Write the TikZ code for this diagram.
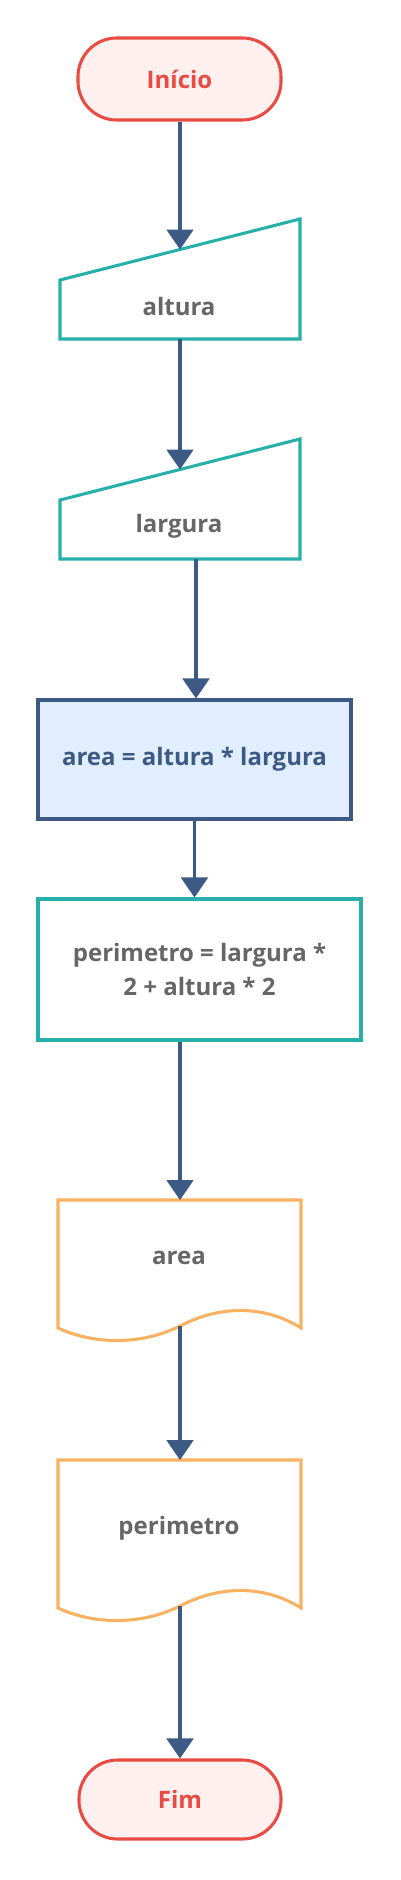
\documentclass[tikz,border=0pt]{standalone}
\usepackage{fontspec}
\setmainfont{Open Sans}
\usetikzlibrary{arrows.meta}
\definecolor{termred}{HTML}{E94B43}
\definecolor{termfill}{HTML}{FFF0F0}
\definecolor{teal}{HTML}{27B0AA}
\definecolor{navy}{HTML}{3C5A84}
\definecolor{procfill}{HTML}{E1EEFF}
\definecolor{orange}{HTML}{F9B261}
\definecolor{txtgray}{HTML}{666666}
\tikzset{
  txtfont/.style={font=\fontsize{18}{26}\selectfont\bfseries},
  term/.style={draw=termred, fill=termfill, line width=2.3pt, rounded corners=29pt,
    text=termred, txtfont, inner sep=0pt},
  procblue/.style={draw=navy, fill=procfill, line width=2.3pt, text=navy,
    txtfont, inner sep=0pt},
  procteal/.style={draw=teal, fill=white, line width=2.3pt, text=txtgray,
    txtfont, inner sep=0pt, align=center},
  inshape/.style={draw=teal, line width=2.3pt, line join=miter},
  docshape/.style={draw=orange, line width=2.3pt, line join=miter},
  lbl/.style={text=txtgray, txtfont, inner sep=0pt},
  arr/.style={draw=navy, line width=2.4pt, -{Triangle[width=20pt,length=15pt]}}
}
\begin{document}
\begin{tikzpicture}[x=0.75pt,y=-0.75pt]
\useasboundingbox[fill=white] (0,0) rectangle (400,1880);

% Inicio
\node[term, minimum width=152.25pt, minimum height=61.5pt] (inicio) at (179.5,79) {Início};

% altura (manual input)
\draw[inshape] (60,280) -- (300,219) -- (300,339) -- (60,339) -- cycle;
\coordinate (altura-in) at (180,249.5);
\coordinate (altura-out) at (180,339);
\node[lbl] (altura) at (179,306) {altura};

% largura (manual input)
\draw[inshape] (60,500) -- (300,439) -- (300,559) -- (60,559) -- cycle;
\coordinate (largura-in) at (180,469.5);
\coordinate (largura-out) at (196,559);
\node[lbl] (largura) at (179,526) {largura};

% area process
\node[procblue, minimum width=234.75pt, minimum height=89.25pt] (area) at (194.5,759.5) {area = altura * largura};

% perimetro process
\node[procteal, minimum width=242.25pt, minimum height=105.75pt] (perim) at (199.5,969.5) {perimetro = largura *\\ 2 + altura * 2};

% area document
\draw[docshape] (58,1328) -- (58,1200) -- (301,1200) -- (301,1328)
  .. controls (265,1305) and (220,1305) .. (180,1326)
  .. controls (140,1346) and (92,1344) .. (58,1328) -- cycle;
\coordinate (areadoc-in) at (180,1200);
\coordinate (areadoc-out) at (180,1326);
\node[lbl] (areadoc) at (179,1258) {area};

% perimetro document
\draw[docshape] (58,1608) -- (58,1460) -- (301,1460) -- (301,1608)
  .. controls (265,1585) and (220,1585) .. (180,1606)
  .. controls (140,1626) and (92,1624) .. (58,1608) -- cycle;
\coordinate (perimdoc-in) at (180,1460);
\coordinate (perimdoc-out) at (180,1606);
\node[lbl] (perimdoc) at (179,1528) {perimetro};

% Fim
\node[term, minimum width=151.5pt, minimum height=59.25pt] (fim) at (180,1799.5) {Fim};

% connectors
\draw[arr] (inicio.south -| altura-in) -- (altura-in);
\draw[arr] (altura-out) -- (largura-in);
\draw[arr] (largura-out) -- (largura-out |- area.north);
\draw[arr] (area.south) -- (area.south |- perim.north);
\draw[arr] (perim.south -| areadoc-in) -- (areadoc-in);
\draw[arr] (areadoc-out) -- (perimdoc-in);
\draw[arr] (perimdoc-out) -- (fim.north -| perimdoc-out);
\end{tikzpicture}
\end{document}
